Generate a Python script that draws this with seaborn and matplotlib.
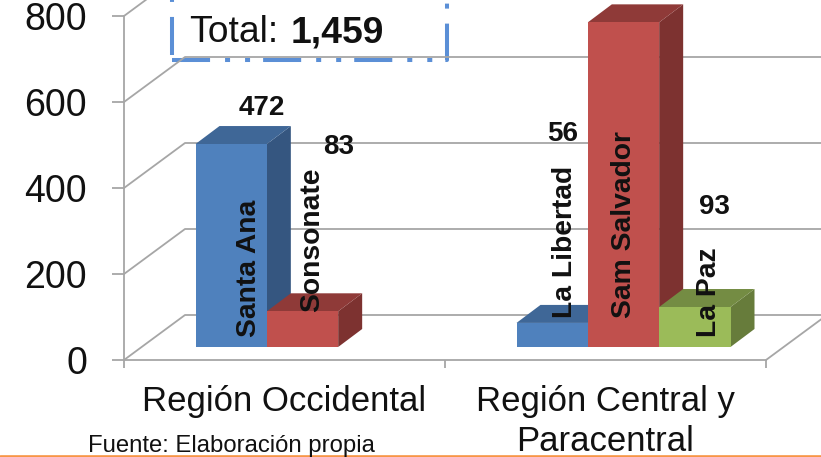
import pandas as pd
import matplotlib.pyplot as plt
import seaborn as sns
from matplotlib.colors import to_hex
from matplotlib.patches import Polygon
from matplotlib.transforms import Affine2D, IdentityTransform

# datos
regiones = ['Región Occidental', 'Región Occidental',
            'Región Central y\nParacentral', 'Región Central y\nParacentral', 'Región Central y\nParacentral']
series = ['Serie 1', 'Serie 2', 'Serie 1', 'Serie 2', 'Serie 3']
departamentos = ['Santa Ana', 'Sonsonate', 'La Libertad', 'Sam Salvador', 'La Paz']
valores = [472, 83, 56, 755, 93]
marcas_y = [0, 200, 400, 600, 800]

colores = {'Serie 1': '#4F81BD', 'Serie 2': '#C0504D', 'Serie 3': '#9BBB59'}
tapas = {'#4F81BD': '#3F6797', '#C0504D': '#8F3A38', '#9BBB59': '#748C43'}
lados = {'#4F81BD': '#355680', '#C0504D': '#7D3230', '#9BBB59': '#677C3B'}
GRIS = '#A6A6A6'

df = pd.DataFrame({'region': regiones, 'serie': series, 'valor': valores})

sns.set_theme(style='white')
plt.rcParams['font.family'] = ['Liberation Sans', 'DejaVu Sans']

fig = plt.figure(figsize=(8.21, 4.57), dpi=100)
ax = fig.add_axes([124 / 821, 97 / 457, 642 / 821, 344 / 457])
ax.patch.set_alpha(0)

sns.barplot(data=df, x='region', y='valor', hue='serie', palette=colores, width=2 / 3,
            gap=0, saturation=1, legend=False, ax=ax)
ax.set_xlim(-0.5, 1.5)
ax.set_ylim(0, 800)
ax.set_xlabel('')
ax.set_ylabel('')

# pixeles de la imagen, con y hacia abajo
px = Affine2D().scale(1, -1).translate(0, 457)

# piso y paredes del efecto 3D
FONDO_X, FONDO_Y = 61, 45
for v in marcas_y:
    _, y0 = ax.transData.transform((0, v))
    x0 = ax.transData.transform((-0.5, 0))[0]
    ax.plot([x0, x0 + FONDO_X, 900], [y0, y0 + FONDO_Y, y0 + FONDO_Y], color=GRIS, lw=1.3,
            transform=IdentityTransform(), clip_on=False, zorder=1)
x1, y1 = ax.transData.transform((1.5, 0))
ax.plot([x1, x1 + FONDO_X], [y1, y1 + FONDO_Y], color=GRIS, lw=1.3,
        transform=IdentityTransform(), clip_on=False, zorder=1)

# barras: cara frontal de seaborn, lado y tapa agregados
DX, DY = 18, 13
PROF_X, PROF_Y = 24, 18
barras = [p for p in ax.patches if p.get_height() > 0]
barras = sorted(barras, key=lambda p: p.get_x())
frente = ax.transData + Affine2D().translate(DX, DY)
for i, b in enumerate(barras):
    xa, ya = frente.transform((b.get_x(), 0))
    xb, yb = frente.transform((b.get_x() + b.get_width(), b.get_height()))
    color = to_hex(b.get_facecolor()).upper()
    z = 3 + i
    lado = [(xb, ya), (xb + PROF_X, ya + PROF_Y), (xb + PROF_X, yb + PROF_Y), (xb, yb)]
    tapa = [(xa, yb), (xa + PROF_X, yb + PROF_Y), (xb + PROF_X, yb + PROF_Y), (xb, yb)]
    ax.add_patch(Polygon(lado, color=lados[color], lw=0, transform=IdentityTransform(), clip_on=False, zorder=z))
    ax.add_patch(Polygon(tapa, color=tapas[color], lw=0, transform=IdentityTransform(), clip_on=False, zorder=z))
    b.set_transform(frente)
    b.set_clip_on(False)
    b.set_linewidth(0)
    b.set_edgecolor('none')
    b.set_zorder(z + 0.5)

# ejes
for lado_eje in ['top', 'right']:
    ax.spines[lado_eje].set_visible(False)
for lado_eje in ['left', 'bottom']:
    ax.spines[lado_eje].set_color(GRIS)
    ax.spines[lado_eje].set_linewidth(1.3)
ax.set_yticks(marcas_y)
ax.tick_params(axis='y', length=8.6, width=1.3, color=GRIS, labelsize=27, pad=18, left=True, labelcolor='#111111')
ax.set_xticks([-0.5, 0.5, 1.5], minor=True)
ax.tick_params(axis='x', which='minor', length=6, width=1.3, color=GRIS, bottom=True)
ax.tick_params(axis='x', which='major', length=0, labelsize=25, pad=18, labelcolor='#111111')
for t in ax.get_xticklabels():
    t.set_linespacing(1.27)

# recuadro del total
AZUL = '#5B8FD6'
PATRON = (0, (27.4 / 2.9, 10.8 / 2.9, 3.6 / 2.9, 10.8 / 2.9, 3.6 / 2.9, 9.4 / 2.9))
ax.plot([172, 447, 447], [60, 60, -10], color=AZUL, lw=2.9, ls=PATRON, dash_capstyle='butt',
        transform=px, clip_on=False, zorder=0.5)
ax.plot([172, 172], [55, -10], color=AZUL, lw=2.9, ls=PATRON, dash_capstyle='butt',
        transform=px, clip_on=False, zorder=0.5)
ax.text(189, 42, 'Total:', fontsize=26.8, color='#111111', va='baseline', ha='left', transform=px)
ax.text(291, 42, '1,459', fontsize=26.8, fontweight='bold', color='#111111', va='baseline', ha='left', transform=px)

# etiquetas de valores y nombres
pos_valores = [(262, 108), (339, 147), (563, 134), (714, 207)]
textos_valores = ['472', '83', '56', '93']
for (x, y), s in zip(pos_valores, textos_valores):
    ax.text(x, y, s, fontsize=20, fontweight='bold', color='#111111', ha='center', va='center',
            transform=px, zorder=20)

pos_nombres = [(249, 337), (312, 312), (565, 318), (624, 318), (709, 337)]
for (x, y), s in zip(pos_nombres, departamentos):
    ax.text(x, y, s, fontsize=20.3, fontweight='bold', rotation=90, color='#111111', ha='center', va='bottom',
            transform=px, zorder=20)

ax.text(88, 452, 'Fuente: Elaboración propia', fontsize=17.2, color='#111111', ha='left', va='baseline',
        transform=px, clip_on=False)
ax.plot([0, 821], [455.5, 455.5], color='#F79646', lw=1.9, transform=px, clip_on=False, zorder=0.5)

fig.savefig('out.png', dpi=100, facecolor='white')
